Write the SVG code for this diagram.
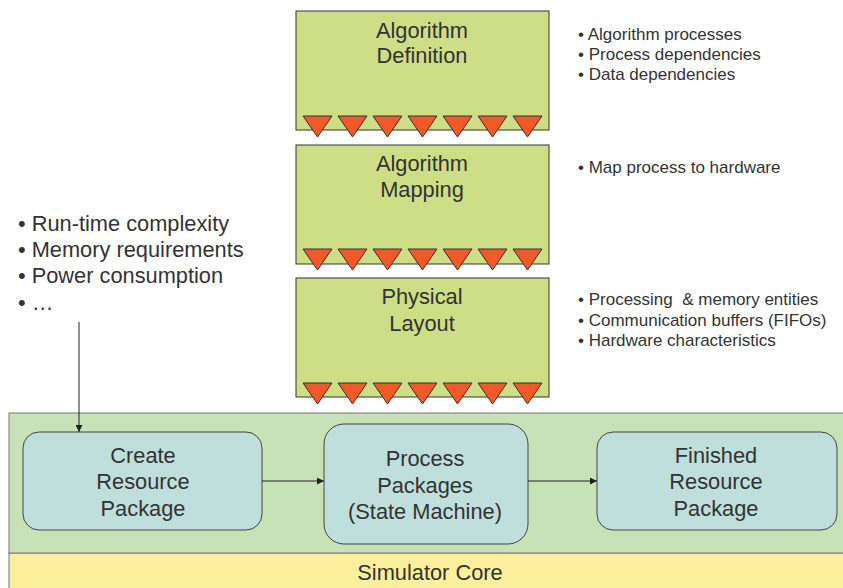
<svg xmlns="http://www.w3.org/2000/svg" width="843" height="588" viewBox="0 0 843 588">
<style>
text{font-family:"Liberation Sans",Arial,sans-serif;fill:#333}
.t{font-size:21.8px;text-anchor:middle}
.b{font-size:17px}
.l{font-size:21.8px}
.stage{fill:#cede86;stroke:#333;stroke-width:1}
.tri{fill:#f05a28;stroke:#333;stroke-width:1}
.proc{fill:#bfdfdc;stroke:#444;stroke-width:1}
.conn{stroke:#222;stroke-width:1;fill:none;marker-end:url(#ah)}
</style>
<defs>
<marker id="ah" viewBox="0 0 10 10" refX="10" refY="5" markerWidth="7" markerHeight="7" markerUnits="userSpaceOnUse" orient="auto">
<path d="M0,0 L10,5 L0,10 z" fill="#222"/>
</marker>
<g id="tris">
<polygon class="tri" points="303,116 332,116 317.5,137"/>
<polygon class="tri" points="338,116 367,116 352.5,137"/>
<polygon class="tri" points="373,116 402,116 387.5,137"/>
<polygon class="tri" points="408,116 437,116 422.5,137"/>
<polygon class="tri" points="443,116 472,116 457.5,137"/>
<polygon class="tri" points="478,116 507,116 492.5,137"/>
<polygon class="tri" points="513,116 542,116 527.5,137"/>
</g>
</defs>
<rect width="843" height="588" fill="#fff"/>
<g id="simulator-core">
<rect x="9" y="553" width="840" height="40" fill="#fbef9c" stroke="#777" stroke-width="1"/>
<text class="t" x="430" y="580">Simulator Core</text>
</g>
<g id="band">
<rect x="9" y="413" width="840" height="140" fill="#c8e2b8" stroke="#777" stroke-width="1"/>
</g>
<g id="algorithm-definition">
<rect class="stage" x="296" y="11" width="253" height="119"/>
<use href="#tris"/>
<text class="t" x="422" y="38">Algorithm</text>
<text class="t" x="422" y="63">Definition</text>
</g>
<g id="algorithm-mapping">
<rect class="stage" x="296" y="145" width="253" height="119"/>
<use href="#tris" y="133"/>
<text class="t" x="422" y="171">Algorithm</text>
<text class="t" x="422" y="197">Mapping</text>
</g>
<g id="physical-layout">
<rect class="stage" x="296" y="278" width="253" height="119"/>
<use href="#tris" y="267"/>
<text class="t" x="422" y="304">Physical</text>
<text class="t" x="422" y="331">Layout</text>
</g>
<g id="def-notes">
<text class="b" x="578" y="40">• Algorithm processes</text>
<text class="b" x="578" y="60">• Process dependencies</text>
<text class="b" x="578" y="80">• Data dependencies</text>
</g>
<g id="map-notes">
<text class="b" x="578" y="173">• Map process to hardware</text>
</g>
<g id="layout-notes">
<text class="b" x="578" y="305" xml:space="preserve">• Processing  &amp; memory entities</text>
<text class="b" x="578" y="326">• Communication buffers (FIFOs)</text>
<text class="b" x="578" y="346">• Hardware characteristics</text>
</g>
<g id="metrics">
<text class="l" x="18" y="231">• Run-time complexity</text>
<text class="l" x="18" y="257">• Memory requirements</text>
<text class="l" x="18" y="283">• Power consumption</text>
<text class="l" x="18" y="310">• …</text>
</g>
<g id="create">
<rect class="proc" x="23" y="432" width="239" height="98" rx="16"/>
<text class="t" x="143" y="463">Create</text>
<text class="t" x="143" y="489">Resource</text>
<text class="t" x="143" y="516">Package</text>
</g>
<g id="process">
<rect class="proc" x="324" y="424" width="204" height="120" rx="20"/>
<text class="t" x="425" y="466">Process</text>
<text class="t" x="425" y="493">Packages</text>
<text class="t" x="425" y="519">(State Machine)</text>
</g>
<g id="finished">
<rect class="proc" x="597" y="432" width="240" height="98" rx="16"/>
<text class="t" x="716" y="463">Finished</text>
<text class="t" x="716" y="489">Resource</text>
<text class="t" x="716" y="516">Package</text>
</g>
<g id="connectors">
<line class="conn" x1="79" y1="322" x2="79" y2="432"/>
<line class="conn" x1="262" y1="481" x2="324" y2="481"/>
<line class="conn" x1="528" y1="481" x2="597" y2="481"/>
</g>
</svg>
